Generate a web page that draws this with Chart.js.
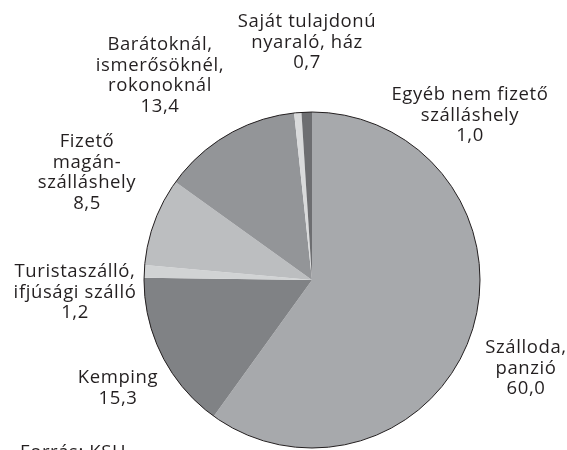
<!DOCTYPE html>
<html>
<head>
<meta charset="utf-8">
<script src="https://cdn.jsdelivr.net/npm/chart.js@4.4.1/dist/chart.umd.min.js"></script>
<style>
  html, body { margin: 0; padding: 0; background: #fff; overflow: hidden; }
  #wrap { position: relative; width: 567px; height: 450px; }
</style>
</head>
<body>
<div id="wrap"><canvas id="myChart" width="567" height="450"></canvas></div>
<script>
const categories = [
  ["Szálloda,", "panzió"],
  ["Kemping"],
  ["Turistaszálló,", "ifjúsági szálló"],
  ["Fizető", "magán-", "szálláshely"],
  ["Barátoknál,", "ismerősöknél,", "rokonoknál"],
  ["Saját tulajdonú", "nyaraló, ház"],
  ["Egyéb nem fizető", "szálláshely"],
];
const values = [60.0, 15.3, 1.2, 8.5, 13.4, 0.7, 1.0];
const colors = ["#a7a9ac", "#808285", "#d1d3d4", "#bcbec0", "#939598", "#d9dadb", "#6d6e71"];

// where each label block is centred (x, first line y)
const labelPos = [
  [526, 348], [118, 378], [75, 272], [87, 142],
  [160, 45], [307, 22], [470, 95],
];
const source = "Forrás: KSH";

const fmt = (v) => v.toFixed(1).replace(".", ",");

const labelsPlugin = {
  id: "labels",
  afterDatasetsDraw(chart) {
    const ctx = chart.ctx;
    const arc = chart.getDatasetMeta(0).data[0];
    // thin outline round the pie only
    ctx.save();
    ctx.beginPath();
    ctx.arc(arc.x, arc.y, arc.outerRadius, 0, Math.PI * 2);
    ctx.strokeStyle = "#231f20";
    ctx.lineWidth = 1;
    ctx.stroke();

    ctx.fillStyle = "#231f20";
    ctx.font = "18.5px 'Open Sans'";
    ctx.letterSpacing = "0.6px";
    ctx.textAlign = "center";
    ctx.textBaseline = "middle";
    categories.forEach((lines, i) => {
      const all = lines.concat([fmt(values[i])]);
      const [x, y] = labelPos[i];
      all.forEach((t, j) => ctx.fillText(t, x, y + j * 20.5));
    });
    ctx.textAlign = "left";
    ctx.fillText(source, 20, 453);
    ctx.restore();
  },
};

new Chart(document.getElementById("myChart"), {
  type: "pie",
  data: {
    labels: categories.map((c) => c.join(" ")),
    datasets: [
      {
        data: values,
        backgroundColor: colors,
        borderWidth: 0,
      },
    ],
  },
  options: {
    responsive: false,
    animation: false,
    rotation: 0,
    layout: { padding: { top: 112, bottom: 2, left: 144, right: 87 } },
    plugins: {
      legend: { display: false },
      tooltip: { enabled: false },
    },
  },
  plugins: [labelsPlugin],
});
</script>
</body>
</html>
